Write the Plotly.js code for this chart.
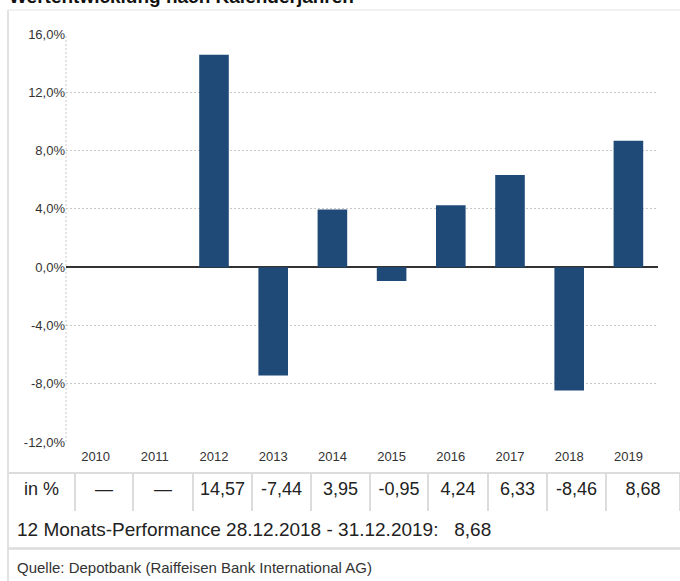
<!DOCTYPE html>
<html>
<head>
<meta charset="utf-8">
<script src="https://cdn.plot.ly/plotly-3.0.1.min.js"></script>
<style>html,body{margin:0;padding:0;background:#fff;}#chart{width:680px;height:581px;}</style>
</head>
<body>
<div id="chart"></div>
<script>
// ---- data ----
const years = ['2010','2011','2012','2013','2014','2015','2016','2017','2018','2019'];
const returns = [null, null, 14.57, -7.44, 3.95, -0.95, 4.24, 6.33, -8.46, 8.68];
const yTickVals = [-12, -8, -4, 0, 4, 8, 12, 16];
const yTickText = ['-12,0%', '-8,0%', '-4,0%', '0,0%', '4,0%', '8,0%', '12,0%', '16,0%'];
const rowLabel = 'in %';
const titleText = 'Wertentwicklung nach Kalenderjahren';
const perfText = '12 Monats-Performance 28.12.2018 - 31.12.2019:&nbsp;&nbsp;&nbsp;8,68';
const sourceText = 'Quelle: Depotbank (Raiffeisen Bank International AG)';

const W = 680, H = 581;
const px = x => x / W;
const py = y => 1 - y / H;
const FONT = '"Liberation Sans", Arial, Helvetica, sans-serif';

const tableVals = [rowLabel].concat(returns.map(v => v === null ? '—' : v.toFixed(2).replace('.', ',')));

const bars = {
  type: 'bar',
  x: years,
  y: returns,
  width: 0.5,
  marker: {color: '#1f4a78', line: {width: 0}},
  hoverinfo: 'x+y',
  xaxis: 'x', yaxis: 'y'
};

const table = {
  type: 'table',
  domain: {x: [px(8), 1], y: [py(512), py(473)]},
  columnwidth: [67, 58, 60, 59, 59, 59, 58, 60, 59, 59, 74],
  header: {
    values: tableVals.map(v => [v]),
    height: 39,
    align: 'center',
    fill: {color: '#ffffff'},
    line: {color: '#dcdcdc', width: 2},
    font: {family: FONT, size: 18, color: '#222'}
  },
  cells: {values: []}
};

const layout = {
  width: W, height: H,
  margin: {l: 0, r: 0, t: 0, b: 0},
  paper_bgcolor: '#ffffff',
  plot_bgcolor: '#ffffff',
  showlegend: false,
  font: {family: FONT, color: '#333'},
  xaxis: {
    domain: [px(66), px(658)],
    type: 'category',
    range: [-0.5, 9.5],
    showgrid: false,
    showline: false,
    zeroline: false,
    ticks: '',
    ticklabelstandoff: 5,
    tickfont: {size: 13, color: '#333', family: FONT},
    anchor: 'y',
    fixedrange: true
  },
  yaxis: {
    domain: [py(442), py(34)],
    range: [-12, 16],
    tickvals: yTickVals,
    ticktext: yTickText,
    showgrid: true,
    gridcolor: '#c8c8c8',
    gridwidth: 1,
    griddash: '2px,2px',
    zeroline: true,
    zerolinecolor: '#333333',
    zerolinewidth: 1.5,
    showline: false,
    ticks: '',
    tickfont: {size: 13, color: '#333', family: FONT},
    anchor: 'x',
    fixedrange: true
  },
  shapes: [
    {type: 'line', xref: 'x domain', yref: 'y domain', x0: 0, x1: 0, y0: 0, y1: 1,
     line: {color: '#c8c8c8', width: 1, dash: '2px,2px'}},
    {type: 'line', xref: 'paper', yref: 'paper', x0: px(8), x1: px(8), y0: 0, y1: py(10),
     line: {color: '#e2e2e2', width: 2}},
    {type: 'line', xref: 'paper', yref: 'paper', x0: px(8), x1: 1, y0: py(10), y1: py(10),
     line: {color: '#ececec', width: 1.5}},
    {type: 'line', xref: 'paper', yref: 'paper', x0: px(8), x1: 1, y0: py(548.5), y1: py(548.5),
     line: {color: '#dcdcdc', width: 2.5}}
  ],
  annotations: [
    {text: '<b>' + titleText + '</b>', xref: 'paper', yref: 'paper', x: px(7), y: py(-4),
     xanchor: 'left', yanchor: 'middle', showarrow: false,
     font: {family: FONT, size: 19, color: '#111'}},
    {text: perfText, xref: 'paper', yref: 'paper', x: px(15), y: py(529),
     xanchor: 'left', yanchor: 'middle', showarrow: false,
     font: {family: FONT, size: 19, color: '#222'}},
    {text: sourceText, xref: 'paper', yref: 'paper', x: px(15), y: py(567),
     xanchor: 'left', yanchor: 'middle', showarrow: false,
     font: {family: FONT, size: 15, color: '#333'}}
  ]
};

Plotly.newPlot('chart', [bars, table], layout, {staticPlot: true, displayModeBar: false});
</script>
</body>
</html>
